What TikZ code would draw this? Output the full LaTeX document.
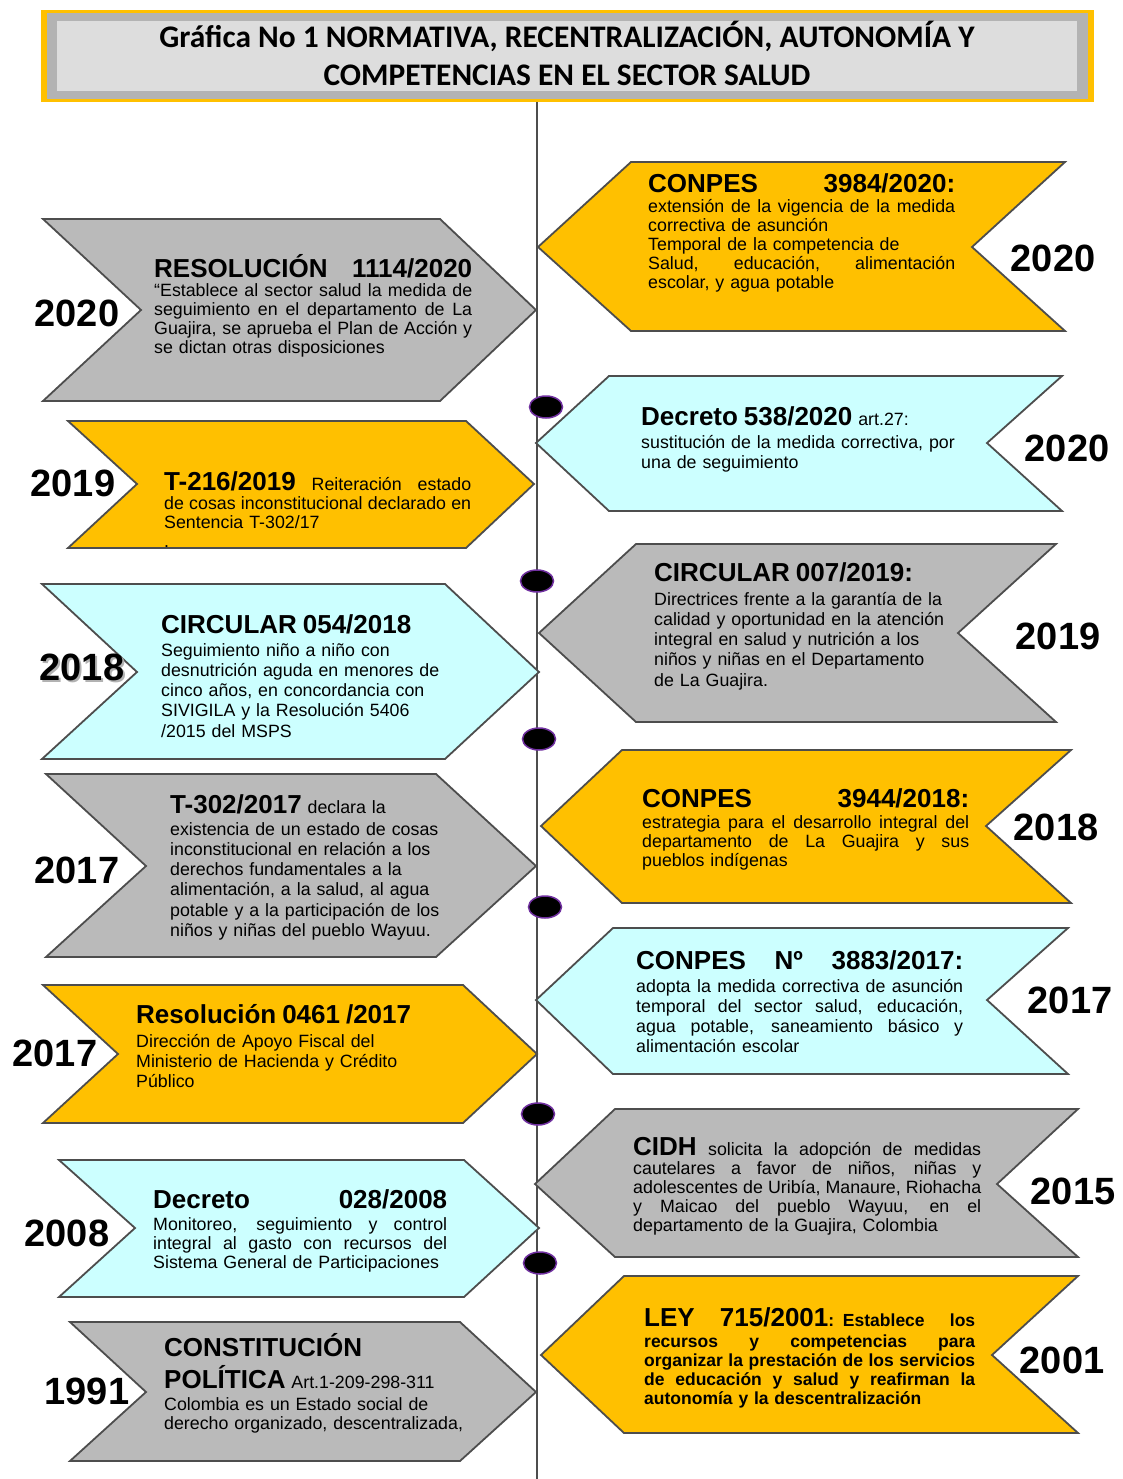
\documentclass[tikz,border=0pt]{standalone}
\usepackage{fontspec}
\setmainfont{Liberation Sans}
\newfontfamily\calibri{Carlito}
\usepackage{xcolor}
\usetikzlibrary{shapes.geometric}

\definecolor{amarillo}{HTML}{FFC000}
\definecolor{gris}{HTML}{BABABA}
\definecolor{celeste}{HTML}{CCFFFF}
\definecolor{borde}{HTML}{4D4D4D}
\definecolor{morado}{HTML}{7030A0}
\definecolor{banda}{HTML}{B3B3B3}
\definecolor{fondo}{HTML}{DDDDDD}

% titulo de cada norma y linea justificada
\newlength{\anchoj}
\newcommand{\tit}{\fontsize{26}{28}\selectfont\bfseries}
\newcommand{\jline}[1]{\leavevmode\hbox to \anchoj{\spaceskip=\fontdimen2\font plus 1fil\relax #1}}

\begin{document}
\begin{tikzpicture}[x=1pt, y=-1pt,
        caja/.style={draw=borde, line width=1.8pt, line join=miter},
        eje/.style={draw=borde, line width=1.6pt},
        ancho/.style={text width=#1, execute at begin node={\setlength{\anchoj}{#1}}},
        texto/.style={anchor=base west, inner sep=0pt, align=left, font=\fontsize{17.8}{19.2}\selectfont},
        textoA/.style={texto, font=\fontsize{17.8}{20.2}\selectfont},
        anio/.style={inner sep=0pt, font=\fontsize{38}{40}\selectfont\bfseries},
        punto/.style={ellipse, draw=morado, line width=1.5pt, fill=black, minimum width=33pt, minimum height=22pt, inner sep=0pt},
        titulo/.style={anchor=base, inner sep=0pt, font=\fontsize{31.4}{33}\selectfont\calibri\bfseries}]

                    \useasboundingbox (0,0) rectangle (1122,1479);

                    % encabezado
                    \fill[amarillo] (41,10) rectangle (1094,102);
                    \fill[banda] (47,13) rectangle (1088,99);
                    \fill[fondo] (57,21) rectangle (1077,91);
                    \node[titulo] (Titulo1) at (567,48) {Gráfica No 1 NORMATIVA, RECENTRALIZACIÓN, AUTONOMÍA Y};
                    \node[titulo] (Titulo2) at (567,86) {COMPETENCIAS EN EL SECTOR SALUD};

                    % linea de tiempo
                    \coordinate (EjeArriba) at (537,102);
                    \coordinate (EjeAbajo) at (537,1479);
                    \draw[eje] (EjeArriba) -- (EjeAbajo);

                    % flechas de la izquierda
                    \draw[caja, fill=gris]     (43,219) -- (440,219) -- (536,310) -- (440,401) -- (43,401) -- (141,310) -- cycle;
                    \draw[caja, fill=amarillo] (68,421) -- (466,421) -- (534,484) -- (466,548) -- (68,548) -- (137,484) -- cycle;
                    \draw[caja, fill=celeste]  (42,584) -- (445,584) -- (539,672) -- (445,759) -- (42,759) -- (137,672) -- cycle;
                    \draw[caja, fill=gris]     (46,774) -- (436,774) -- (536,866) -- (436,957) -- (46,957) -- (146,866) -- cycle;
                    \draw[caja, fill=amarillo] (43,985) -- (463,985) -- (537,1054) -- (463,1123) -- (43,1123) -- (118,1054) -- cycle;
                    \draw[caja, fill=celeste]  (59,1160) -- (464,1160) -- (539,1228) -- (464,1297) -- (59,1297) -- (135,1228) -- cycle;
                    \draw[caja, fill=gris]     (70,1322) -- (460,1322) -- (536,1392) -- (460,1461) -- (70,1461) -- (146,1392) -- cycle;

                    % flechas de la derecha
                    \draw[caja, fill=amarillo] (538,247) -- (631,162) -- (1065,162) -- (972,247) -- (1065,331) -- (631,331) -- cycle;
                    \draw[caja, fill=celeste]  (536,443) -- (609,376) -- (1062,376) -- (987,443) -- (1062,511) -- (609,511) -- cycle;
                    \draw[caja, fill=gris]     (539,633) -- (636,544) -- (1056,544) -- (958,633) -- (1056,722) -- (636,722) -- cycle;
                    \draw[caja, fill=amarillo] (541,826) -- (622,750) -- (1071,750) -- (986,826) -- (1071,903) -- (622,903) -- cycle;
                    \draw[caja, fill=celeste]  (536,1000) -- (613,928) -- (1068,928) -- (987,1000) -- (1068,1074) -- (613,1074) -- cycle;
                    \draw[caja, fill=gris]     (535,1184) -- (615,1109) -- (1078,1109) -- (997,1184) -- (1078,1257) -- (615,1257) -- cycle;
                    \draw[caja, fill=amarillo] (541,1355) -- (624,1276) -- (1078,1276) -- (992,1355) -- (1078,1433) -- (624,1433) -- cycle;

                    % puntos sobre la linea
                    \node[punto] (Punto1) at (546,407) {};
                    \node[punto] (Punto2) at (537,581) {};
                    \node[punto] (Punto3) at (539,739) {};
                    \node[punto] (Punto4) at (545,907) {};
                    \node[punto] (Punto5) at (538,1114) {};
                    \node[punto] (Punto6) at (540,1263) {};

                    % anios
                    \node[anio] (AnioIzq1) at (77,313) {2020};
                    \node[anio] (AnioIzq2) at (73,483) {2019};
                    \node[anio, text=black!30] (AnioIzq3s) at (84,669) {2018};
                    \node[anio] (AnioIzq3) at (82,667) {2018};
                    \node[anio] (AnioIzq4) at (77,870) {2017};
                    \node[anio] (AnioIzq5) at (55,1053) {2017};
                    \node[anio] (AnioIzq6) at (67,1233) {2008};
                    \node[anio] (AnioIzq7) at (87,1391) {1991};

                    \node[anio] (AnioDer1) at (1053,258) {2020};
                    \node[anio] (AnioDer2) at (1067,448) {2020};
                    \node[anio] (AnioDer3) at (1058,636) {2019};
                    \node[anio] (AnioDer4) at (1056,827) {2018};
                    \node[anio] (AnioDer5) at (1070,1000) {2017};
                    \node[anio] (AnioDer6) at (1073,1191) {2015};
                    \node[anio] (AnioDer7) at (1062,1360) {2001};

                    % textos de la izquierda
                    \node[texto, ancho=318pt] (Izq1) at (154,277) {\jline{\tit RESOLUCIÓN 1114/2020}\\
                        \jline{“Establece al sector salud la medida de}\\
                        \jline{seguimiento en el departamento de La}\\
                        \jline{Guajira, se aprueba el Plan de Acción y}\\
                        se dictan otras disposiciones};
                    \node[texto, ancho=307pt] (Izq2) at (164,490) {\jline{{\tit T-216/2019} Reiteración estado}\\
                        \jline{de cosas inconstitucional declarado en}\\
                        Sentencia T-302/17\\
                        .};
                    \node[textoA, ancho=300pt] (Izq3) at (161,633) {{\tit CIRCULAR 054/2018}\\[3pt]
                        Seguimiento niño a niño con\\
                        desnutrición aguda en menores de\\
                        cinco años, en concordancia con\\
                        SIVIGILA y la Resolución 5406\\
                        /2015 del MSPS};
                    \node[textoA, ancho=300pt] (Izq4) at (170,813) {{\tit T-302/2017} declara la\\[2pt]
                        existencia de un estado de cosas\\
                        inconstitucional en relación a los\\
                        derechos fundamentales a la\\
                        alimentación, a la salud, al agua\\
                        potable y a la participación de los\\
                        niños y niñas del pueblo Wayuu.};
                    \node[textoA, ancho=330pt] (Izq5) at (136,1023) {{\tit Resolución 0461 /2017}\\[4pt]
                        Dirección de Apoyo Fiscal del\\
                        Ministerio de Hacienda y Crédito\\
                        Público};
                    \node[texto, ancho=294pt] (Izq6) at (153,1208) {\jline{\tit Decreto 028/2008}\\[3pt]
                        \jline{Monitoreo, seguimiento y control}\\
                        \jline{integral al gasto con recursos del}\\
                        Sistema General de Participaciones};
                    \node[texto, ancho=330pt] (Izq7) at (164,1356) {{\tit CONSTITUCIÓN}\\[8pt]
                        {\tit POLÍTICA} Art.1-209-298-311\\[3pt]
                        Colombia es un Estado social de\\
                        derecho organizado, descentralizada,};

                    % textos de la derecha
                    \node[texto, ancho=307pt] (Der1) at (648,193) {\jline{\tit CONPES 3984/2020:}\\
                        \jline{extensión de la vigencia de la medida}\\
                        correctiva de asunción\\
                        Temporal de la competencia de\\
                        \jline{Salud, educación, alimentación}\\
                        escolar, y agua potable};
                    \node[textoA, ancho=320pt] (Der2) at (641,425) {{\tit Decreto 538/2020} art.27:\\[3pt]
                        sustitución de la medida correctiva, por\\
                        una de seguimiento};
                    \node[textoA, ancho=300pt] (Der3) at (654,581) {{\tit CIRCULAR 007/2019:}\\[4pt]
                        Directrices frente a la garantía de la\\
                        calidad y oportunidad en la atención\\
                        integral en salud y nutrición a los\\
                        niños y niñas en el Departamento\\
                        de La Guajira.};
                    \node[texto, ancho=327pt] (Der4) at (642,807) {\jline{\tit CONPES 3944/2018:}\\[2pt]
                        \jline{estrategia para el desarrollo integral del}\\
                        \jline{departamento de La Guajira y sus}\\
                        pueblos indígenas};
                    \node[textoA, ancho=327pt] (Der5) at (636,969) {\jline{\tit CONPES Nº 3883/2017:}\\[3pt]
                        \jline{adopta la medida correctiva de asunción}\\
                        \jline{temporal del sector salud, educación,}\\
                        \jline{agua potable, saneamiento básico y}\\
                        alimentación escolar};
                    \node[texto, ancho=348pt] (Der6) at (633,1155) {\jline{{\tit CIDH} solicita la adopción de medidas}\\
                        \jline{cautelares a favor de niños, niñas y}\\
                        \jline{adolescentes de Uribía, Manaure, Riohacha}\\
                        \jline{y Maicao del pueblo Wayuu, en el}\\
                        departamento de la Guajira, Colombia};
                    \node[texto, ancho=331pt, font=\fontsize{17.5}{19}\selectfont\bfseries] (Der7) at (644,1326) {\jline{{\tit LEY 715/2001}: Establece los}\\[2.5pt]
                        \jline{recursos y competencias para}\\
                        \jline{organizar la prestación de los servicios}\\
                        \jline{de educación y salud y reafirman la}\\
                        autonomía y la descentralización};
                \end{tikzpicture}
\end{document}
